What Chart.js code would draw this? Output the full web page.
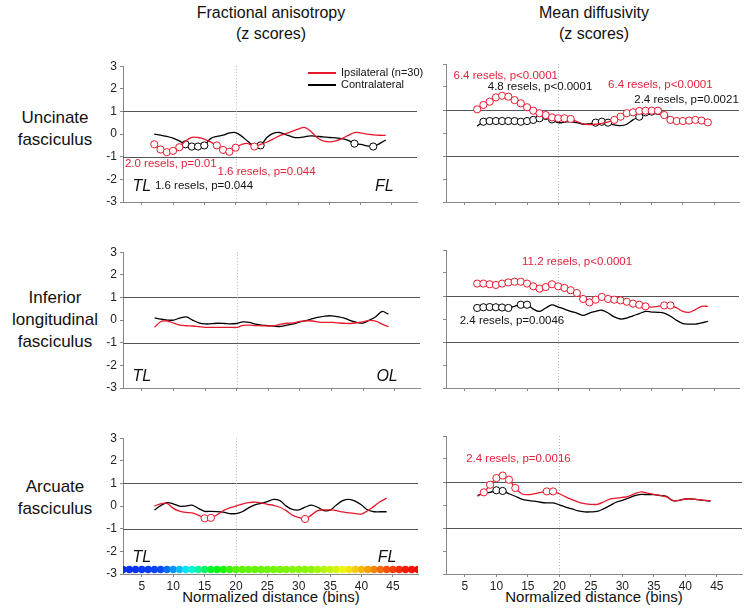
<!DOCTYPE html>
<html>
<head>
<meta charset="utf-8">
<script src="https://cdn.jsdelivr.net/npm/chart.js@4.4.1/dist/chart.umd.min.js"></script>
<style>
    body { margin: 0; background: #fff; font-family: "Liberation Sans", Arial, sans-serif; color: #111; }
    #wrap { position: relative; width: 744px; height: 610px; overflow: hidden; }
    canvas { position: absolute; }
    .t { position: absolute; text-align: center; white-space: nowrap; }
    .leg { position: absolute; font-size: 11px; line-height: 13px; white-space: nowrap; }
    .legline { position: absolute; height: 2px; width: 28px; }
</style>
</head>
<body>
<div id="wrap">
    <div class="t" style="left:171px;width:200px;top:2px;font-size:16px;line-height:21px">Fractional anisotropy<br>(z scores)</div>
    <div class="t" style="left:494px;width:200px;top:2px;font-size:16px;line-height:21px">Mean diffusivity<br>(z scores)</div>

    <div class="t" style="left:0;width:110px;top:107px;font-size:17px;line-height:22px">Uncinate<br>fasciculus</div>
    <div class="t" style="left:0;width:110px;top:287px;font-size:17px;line-height:22px">Inferior<br>longitudinal<br>fasciculus</div>
    <div class="t" style="left:0;width:110px;top:476px;font-size:17px;line-height:22px">Arcuate<br>fasciculus</div>

    <div class="t" style="left:171px;width:200px;top:588px;font-size:15px;line-height:18px">Normalized distance (bins)</div>
    <div class="t" style="left:494px;width:200px;top:588px;font-size:15px;line-height:18px">Normalized distance (bins)</div>

    <canvas id="faUnc" width="330" height="166" style="left:92px;top:56px"></canvas>
    <canvas id="mdUnc" width="322" height="166" style="left:422px;top:56px"></canvas>
    <canvas id="faIlf" width="330" height="166" style="left:92px;top:242px"></canvas>
    <canvas id="mdIlf" width="322" height="166" style="left:422px;top:242px"></canvas>
    <canvas id="faArc" width="330" height="166" style="left:92px;top:428px"></canvas>
    <canvas id="mdArc" width="322" height="166" style="left:422px;top:428px"></canvas>

    <div class="legline" style="left:308px;top:72px;background:#e8182c"></div>
    <div class="leg" style="left:341px;top:66px">Ipsilateral (n=30)</div>
    <div class="legline" style="left:308px;top:84px;background:#000"></div>
    <div class="leg" style="left:341px;top:78px">Contralateral</div>
</div>
<script>
// bins along the tract
const bins = [7,8,9,10,11,12,13,14,15,16,17,18,19,20,21,22,23,24,25,26,27,28,29,30,31,32,33,34,35,36,37,38,39,40,41,42,43,44];
const xTicks = [5,10,15,20,25,30,35,40,45];
const yTicks = [-3,-2,-1,0,1,2,3];
const colorBins = [2,3,4,5,6,7,8,9,10,11,12,13,14,15,16,17,18,19,20,21,22,23,24,25,26,27,28,29,30,31,32,33,34,35,36,37,38,39,40,41,42,43,44,45,46,47,48,49];

// Uncinate fasciculus
const faUncIpsi = [-0.45,-0.68,-0.80,-0.74,-0.58,-0.30,-0.14,-0.15,-0.22,-0.35,-0.50,-0.70,-0.78,-0.60,-0.45,-0.42,-0.55,-0.45,-0.35,-0.22,-0.08,0.02,0.12,0.22,0.30,0.13,-0.15,-0.30,-0.34,-0.30,-0.20,-0.06,0.07,0.05,0.00,-0.03,-0.05,-0.06];
const faUncContra = [0.00,-0.05,-0.10,-0.18,-0.30,-0.45,-0.55,-0.55,-0.50,-0.20,-0.10,-0.05,0.05,0.07,-0.10,-0.33,-0.52,-0.50,-0.15,0.03,0.07,-0.02,-0.12,-0.16,-0.12,-0.08,-0.10,-0.12,-0.15,-0.17,-0.20,-0.28,-0.42,-0.45,-0.52,-0.55,-0.42,-0.26];
const faUncIpsiSig = [7,8,9,10,11,17,18,19,20,23];
const faUncContraSig = [12,13,14,15,24,39,42];

const mdUncIpsi = [1.03,1.22,1.36,1.55,1.62,1.58,1.43,1.29,1.12,0.97,0.86,0.78,0.68,0.64,0.64,0.61,0.50,0.40,0.37,0.38,0.42,0.48,0.57,0.71,0.86,0.90,0.96,0.97,0.97,0.97,0.78,0.57,0.52,0.52,0.54,0.57,0.54,0.46];
const mdUncContra = [0.30,0.49,0.52,0.52,0.52,0.52,0.52,0.49,0.52,0.57,0.64,0.74,0.59,0.45,0.47,0.49,0.45,0.38,0.40,0.45,0.49,0.45,0.35,0.32,0.38,0.57,0.71,0.90,0.93,0.95,0.86,0.60,0.50,0.50,0.52,0.54,0.50,0.42];
const mdUncIpsiSig = [7,8,9,10,11,12,13,14,15,16,17,18,19,20,21,22,29,30,31,32,33,34,35,36,37,38,39,40,41,42,43,44];
const mdUncContraSig = [8,9,10,11,12,13,14,15,16,17,18,19,26,27,28,33,34,35,36];

// Inferior longitudinal fasciculus
const faIlfIpsi = [-0.32,-0.06,-0.04,-0.13,-0.22,-0.25,-0.26,-0.29,-0.32,-0.32,-0.32,-0.32,-0.32,-0.32,-0.23,-0.22,-0.24,-0.25,-0.26,-0.24,-0.18,-0.14,-0.12,-0.06,-0.03,-0.04,-0.09,-0.10,-0.10,-0.12,-0.14,-0.15,-0.12,-0.08,-0.01,-0.05,-0.18,-0.29];
const faIlfContra = [0.10,0.04,0.00,0.00,0.09,0.14,0.00,-0.12,-0.17,-0.16,-0.14,-0.15,-0.17,-0.15,-0.08,-0.10,-0.18,-0.22,-0.24,-0.27,-0.28,-0.22,-0.17,-0.08,-0.02,0.06,0.13,0.18,0.19,0.15,0.09,-0.02,-0.10,-0.13,0.00,0.15,0.38,0.26];

const mdIlfIpsi = [1.54,1.54,1.51,1.48,1.54,1.59,1.62,1.62,1.54,1.42,1.32,1.39,1.51,1.42,1.35,1.25,1.13,0.87,0.72,0.84,0.96,0.87,0.84,0.81,0.75,0.67,0.62,0.55,0.52,0.55,0.59,0.59,0.48,0.33,0.29,0.41,0.55,0.55];
const mdIlfContra = [0.48,0.51,0.52,0.51,0.50,0.48,0.55,0.62,0.62,0.43,0.33,0.48,0.61,0.52,0.43,0.33,0.26,0.16,0.26,0.33,0.38,0.26,0.09,0.00,0.04,0.14,0.23,0.33,0.30,0.29,0.26,0.12,-0.06,-0.20,-0.22,-0.22,-0.17,-0.10];
const mdIlfIpsiSig = [7,8,9,10,11,12,13,14,15,16,17,18,19,20,21,22,23,24,25,26,27,28,29,30,31,32,33,34,37,38];
const mdIlfContraSig = [7,8,9,10,11,12,14,15];

// Arcuate fasciculus
const faArcIpsi = [0.00,0.10,0.12,-0.10,-0.22,-0.28,-0.30,-0.40,-0.54,-0.52,-0.38,-0.20,-0.08,0.00,0.09,0.15,0.18,0.14,0.08,0.03,-0.05,-0.20,-0.40,-0.50,-0.57,-0.40,-0.20,-0.17,-0.17,-0.20,-0.26,-0.30,-0.33,-0.35,-0.20,0.00,0.20,0.35];
const faArcContra = [-0.17,0.02,0.15,0.10,0.00,0.00,0.04,-0.10,-0.23,-0.23,-0.24,-0.27,-0.33,-0.33,-0.25,-0.08,0.05,0.12,0.20,0.30,0.24,0.00,-0.15,-0.17,-0.05,0.04,-0.05,-0.20,-0.18,0.05,0.24,0.30,0.22,0.05,-0.17,-0.25,-0.25,-0.25];
const faArcIpsiSig = [15,16,31];

const mdArcIpsi = [0.38,0.55,0.88,1.17,1.28,1.10,0.74,0.49,0.45,0.49,0.55,0.59,0.59,0.49,0.35,0.23,0.13,0.06,0.03,0.03,0.13,0.26,0.30,0.33,0.38,0.49,0.57,0.52,0.46,0.42,0.35,0.20,0.20,0.26,0.26,0.23,0.20,0.19];
const mdArcContra = [0.41,0.52,0.55,0.64,0.61,0.49,0.38,0.26,0.20,0.17,0.12,0.09,0.09,0.01,-0.09,-0.17,-0.26,-0.30,-0.30,-0.28,-0.17,-0.03,0.12,0.20,0.30,0.41,0.46,0.45,0.45,0.41,0.38,0.19,0.20,0.26,0.26,0.23,0.20,0.17];
const mdArcIpsiSig = [8,9,10,11,12,13,18,19];
const mdArcContraSig = [10,11];

const RED = '#e8182c';
const TXT_RED = '#e2233a';

// colour strip under the arcuate FA panel (blue at TL end -> red at FL end)
const hueStops = [[2,232],[8,224],[12,185],[16,130],[20,100],[32,86],[36,68],[38,56],[41,38],[44,18],[47,4],[49,0]];
function hueAt(b) {
    for (let i = 1; i < hueStops.length; i++) {
        const [b0, h0] = hueStops[i - 1], [b1, h1] = hueStops[i];
        if (b <= b1) return h0 + (h1 - h0) * (b - b0) / (b1 - b0);
    }
    return 0;
}

const decor = {
    id: 'decor',
    beforeDatasetsDraw(chart, args, o) {
        const { ctx, chartArea: a, scales: { x, y } } = chart;
        ctx.save();
        ctx.strokeStyle = '#555';
        ctx.lineWidth = 1;
        [-1, 1].forEach(v => {
            const py = Math.round(y.getPixelForValue(v)) + 0.5;
            ctx.beginPath(); ctx.moveTo(a.left, py); ctx.lineTo(a.right, py); ctx.stroke();
        });
        ctx.strokeStyle = '#aebbc6';
        ctx.setLineDash([1, 2]);
        const px = Math.round(x.getPixelForValue(20)) + 0.5;
        ctx.beginPath(); ctx.moveTo(px, a.top); ctx.lineTo(px, a.bottom); ctx.stroke();
        ctx.restore();
    },
    afterDatasetsDraw(chart, args, o) {
        const { ctx, scales: { x, y } } = chart;
        ctx.save();
        ctx.textBaseline = 'middle';
        ctx.textAlign = 'left';
        (o.notes || []).forEach(n => {
            ctx.fillStyle = n.color || '#111';
            ctx.font = n.italic ? 'italic 16px "Liberation Sans", Arial' : '11.5px "Liberation Sans", Arial';
            ctx.fillText(n.text, x.getPixelForValue(n.x), y.getPixelForValue(n.y));
        });
        ctx.restore();
    }
};

function series(vals, sig, color) {
    return {
        data: bins.map((b, i) => ({ x: b, y: vals[i] })),
        borderColor: color,
        borderWidth: 1.3,
        tension: 0.35,
        fill: false,
        pointRadius: bins.map(b => sig.includes(b) ? 3.6 : 0),
        pointBackgroundColor: '#fff',
        pointBorderColor: color,
        pointBorderWidth: 1
    };
}

function makePanel(id, cfg) {
    const datasets = [
        series(cfg.ipsi, cfg.ipsiSig || [], RED),
        series(cfg.contra, cfg.contraSig || [], '#000')
    ];
    if (cfg.strip) {
        datasets.push({
            data: colorBins.map(b => ({ x: b, y: -2.8 })),
            showLine: false,
            pointRadius: 3.7,
            pointBorderWidth: 0,
            pointBackgroundColor: colorBins.map(b => `hsl(${hueAt(b)}, 92%, 50%)`)
        });
    }
    const axisCommon = {
        grid: { drawOnChartArea: false, drawTicks: true, tickLength: 3, color: '#888' },
        border: { color: '#888' }
    };
    new Chart(document.getElementById(id).getContext('2d'), {
        type: 'line',
        data: { datasets },
        options: {
            responsive: false,
            animation: false,
            devicePixelRatio: 1,
            layout: { padding: { top: 8, right: 2, left: 0, bottom: 0 } },
            plugins: {
                legend: { display: false },
                tooltip: { enabled: false },
                decor: { notes: cfg.notes }
            },
            scales: {
                x: {
                    ...axisCommon,
                    type: 'linear', min: 2, max: 49,
                    afterBuildTicks: s => { s.ticks = xTicks.map(v => ({ value: v })); },
                    afterFit: s => { s.height = 20; },
                    ticks: { display: !!cfg.showX, color: '#222', font: { size: 12, family: '"Liberation Sans", Arial' }, padding: 2, maxRotation: 0 }
                },
                y: {
                    ...axisCommon,
                    min: -3, max: 3,
                    afterBuildTicks: s => { s.ticks = yTicks.map(v => ({ value: v })); },
                    afterFit: s => { s.width = cfg.left ? 31 : 24; },
                    ticks: { display: !!cfg.left, color: '#222', font: { size: 12, family: '"Liberation Sans", Arial' }, padding: 3 }
                }
            }
        },
        plugins: [decor]
    });
}

makePanel('faUnc', {
    left: true, ipsi: faUncIpsi, contra: faUncContra, ipsiSig: faUncIpsiSig, contraSig: faUncContraSig,
    notes: [
        { x: 2.3, y: -1.32, text: '2.0 resels, p=0.01', color: TXT_RED },
        { x: 17.1, y: -1.68, text: '1.6 resels, p=0.044', color: TXT_RED },
        { x: 7.1, y: -2.3, text: '1.6 resels, p=0.044' },
        { x: 3.5, y: -2.3, text: 'TL', italic: true },
        { x: 42.3, y: -2.3, text: 'FL', italic: true }
    ]
});
makePanel('mdUnc', {
    ipsi: mdUncIpsi, contra: mdUncContra, ipsiSig: mdUncIpsiSig, contraSig: mdUncContraSig,
    notes: [
        { x: 3.2, y: 2.48, text: '6.4 resels, p<0.0001', color: TXT_RED },
        { x: 8.7, y: 1.99, text: '4.8 resels, p<0.0001' },
        { x: 28.0, y: 2.09, text: '6.4 resels, p<0.0001', color: TXT_RED },
        { x: 32.2, y: 1.46, text: '2.4 resels, p=0.0021' }
    ]
});
makePanel('faIlf', {
    left: true, ipsi: faIlfIpsi, contra: faIlfContra,
    notes: [
        { x: 3.5, y: -2.5, text: 'TL', italic: true },
        { x: 42.1, y: -2.5, text: 'OL', italic: true }
    ]
});
makePanel('mdIlf', {
    ipsi: mdIlfIpsi, contra: mdIlfContra, ipsiSig: mdIlfIpsiSig, contraSig: mdIlfContraSig,
    notes: [
        { x: 14.2, y: 2.5, text: '11.2 resels, p<0.0001', color: TXT_RED },
        { x: 4.2, y: -0.07, text: '2.4 resels, p=0.0046' }
    ]
});
makePanel('faArc', {
    left: true, showX: true, strip: true, ipsi: faArcIpsi, contra: faArcContra, ipsiSig: faArcIpsiSig,
    notes: [
        { x: 3.5, y: -2.26, text: 'TL', italic: true },
        { x: 42.6, y: -2.26, text: 'FL', italic: true }
    ]
});
makePanel('mdArc', {
    showX: true, ipsi: mdArcIpsi, contra: mdArcContra, ipsiSig: mdArcIpsiSig, contraSig: mdArcContraSig,
    notes: [
        { x: 5.2, y: 2.0, text: '2.4 resels, p=0.0016', color: TXT_RED }
    ]
});
</script>
</body>
</html>
